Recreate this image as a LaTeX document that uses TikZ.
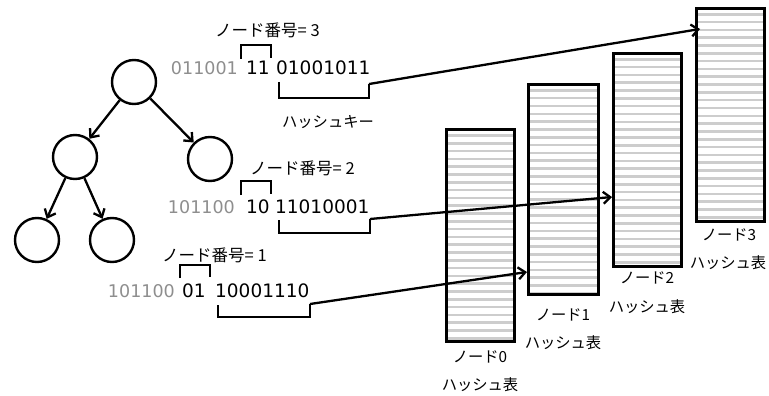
\documentclass[tikz,border=0pt]{standalone}
\usepackage{fontspec}
\newfontfamily\jpfont{Noto Sans CJK JP}
\newfontfamily\digitfont{DejaVu Sans}
\usetikzlibrary{arrows.meta,calc}
\definecolor{prefixgray}{HTML}{8E8E8E}
\definecolor{stripegray}{HTML}{CDCDCD}
\begin{document}
\begin{tikzpicture}[x=1pt,y=-1pt,
  tnode/.style={circle,draw,line width=2.4pt,minimum size=44pt,inner sep=0pt},
  tarrow/.style={line width=2.3pt,-{Straight Barb[length=7pt,width=12pt]}},
  conn/.style={line width=2.3pt,-{Straight Barb[length=7pt,width=12pt]}},
  brk/.style={line width=2.5pt},
  bits/.style={font=\digitfont\fontsize{18.5}{20}\selectfont,inner sep=0pt,anchor=base west},
  greybits/.style={font=\digitfont\fontsize{17.5}{20}\selectfont,inner sep=0pt,anchor=base east,text=prefixgray},
  lbl/.style={font=\jpfont\fontsize{16.5}{18}\selectfont,inner sep=0pt},
  tlbl/.style={font=\jpfont\fontsize{15.3}{17}\selectfont,inner sep=0pt},
  htable/.style={draw,line width=2.8pt,anchor=north west,inner sep=0pt,
    path picture={
      \foreach \k in {0,...,32}{
        \pgfmathsetmacro\yy{6+\k*7.8}
        \draw[stripegray,line width=2.6pt]
          ([yshift=-\yy pt]path picture bounding box.north west) --
          ([yshift=-\yy pt]path picture bounding box.north east);
      }
    }}
]
\useasboundingbox (0,0) rectangle (769,396);

% tree
\node[tnode] (root) at (134,82) {};
\node[tnode] (lc) at (75,157) {};
\node[tnode] (rc) at (210,159) {};
\node[tnode] (ll) at (37,240) {};
\node[tnode] (lr) at (112,240) {};
\draw[tarrow] (root) -- (lc);
\draw[tarrow] (root) -- (rc);
\draw[tarrow] (lc) -- (ll);
\draw[tarrow] (lc) -- (lr);

% hash tables
\node[htable,minimum width=68pt,minimum height=212pt] (t0) at (445,128) {};
\node[htable,minimum width=70pt,minimum height=210pt] (t1) at (527,83) {};
\node[htable,minimum width=68pt,minimum height=213pt] (t2) at (612,52) {};
\node[htable,minimum width=68pt,minimum height=213pt] (t3) at (695,7) {};

\node[tlbl] (t0a) at (480,357) {ノード0};
\node[tlbl] (t0b) at (480,385) {ハッシュ表};
\node[tlbl] (t1a) at (563,315) {ノード1};
\node[tlbl] (t1b) at (563,343) {ハッシュ表};
\node[tlbl] (t2a) at (647,278) {ノード2};
\node[tlbl] (t2b) at (647,307) {ハッシュ表};
\node[tlbl] (t3a) at (729,235) {ノード3};
\node[tlbl] (t3b) at (728,263) {ハッシュ表};

% row 3
\node[lbl,anchor=west] (n3) at (215,30) {ノード番号= 3};
\node[greybits] (p3) at (238,75) {011001};
\node[bits] (b3) at (246,75) {11};
\node[bits] (h3) at (276,75) {01001011};
\node[tlbl] (hk) at (328,122) {ハッシュキー};
\draw[brk] (241,59) -- (241,45) -- (271,45) -- (271,58);
\draw[brk] (279,82) -- (279,98) -- (369,98) -- (369,84) coordinate (e3);
\coordinate (a3) at ($(t3.north west)+(5,22)$);
\draw[conn] (e3) -- (a3);

% row 2
\node[lbl,anchor=west] (n2) at (250,168) {ノード番号= 2};
\node[greybits] (p2) at (235,213) {101100};
\node[bits] (b2) at (246,213) {10};
\node[bits] (h2) at (275,213) {11010001};
\draw[brk] (241,195) -- (241,181) -- (271,181) -- (271,194);
\draw[brk] (279,220) -- (279,233) -- (370,233) -- (370,219) coordinate (e2);
\coordinate (a2) at ($(t2.north west)+(0,145)$);
\draw[conn] (e2) -- (a2);

% row 1
\node[lbl,anchor=west] (n1) at (162,255) {ノード番号= 1};
\node[greybits] (p1) at (175,297) {101100};
\node[bits] (b1) at (182,297) {01};
\node[bits] (h1) at (215,297) {10001110};
\draw[brk] (180,278) -- (180,265) -- (210,265) -- (210,277);
\draw[brk] (218,305) -- (218,317) -- (310,317) -- (310,304) coordinate (e1);
\coordinate (a1) at ($(t1.north west)+(0,189)$);
\draw[conn] (e1) -- (a1);
\end{tikzpicture}
\end{document}
